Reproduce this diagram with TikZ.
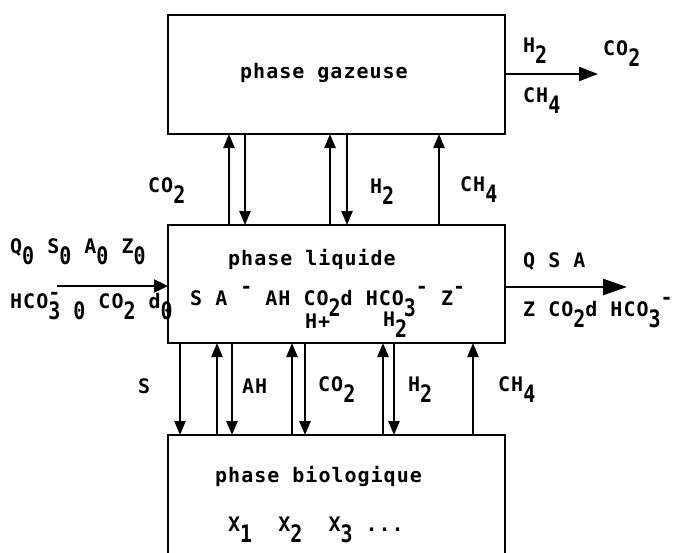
\documentclass[tikz,border=0pt]{standalone}
\usepackage{fontspec}
\usepackage{graphicx}
\setmainfont[LetterSpace=5]{DejaVu Sans Mono Bold}
\usetikzlibrary{arrows.meta,positioning}
\newcommand{\lowr}[1]{\raisebox{-0.55em}{\scalebox{1}[1.2]{#1}}}
\newcommand{\highr}[1]{\raisebox{0.6em}{#1}}
\tikzset{
    phase/.style = {
        draw,
        line width=2.6pt,
        minimum width=337pt,
        outer sep=0pt,
        },
    lbl/.style = {
        anchor=base west,
        inner sep=0pt,
        },
    flux/.style = {
        line width=2.4pt,
        },
    arrup/.style = {
        flux,
        {Triangle[length=14pt,width=11pt]}-,
        },
    arrdown/.style = {
        flux,
        -{Triangle[length=14pt,width=11pt]},
        },
}

\begin{document}
\begin{tikzpicture}[
            x=1pt, y=-1pt,
            node distance=91pt,
            every node/.append style={font=\fontsize{20}{24}\selectfont}
            ]
            \useasboundingbox (0,0) rectangle (674,552);

            \node [phase, minimum height=119pt] (gaz) at (336.5,74.5) {};
            \node [phase, minimum height=118pt, below=of gaz] (liq) {};
            \node [phase, minimum height=140pt, below=92pt of liq] (bio) {};

            % phase gazeuse
            \node [lbl] (tgaz) at (240,78) {phase gazeuse};
            \coordinate (sortiegaz) at (598,74);
            \draw[flux, -{Triangle[length=19pt,width=14pt]}] (gaz.east |- sortiegaz) -- (sortiegaz);
            \node [lbl] (gh2) at (523,52) {H\lowr{2}};
            \node [lbl] (gco2) at (603,55) {CO\lowr{2}};
            \node [lbl] (gch4) at (523,102) {CH\lowr{4}};

            % echanges gaz / liquide
            \foreach \x/\s in {229/arrup,245/arrdown,330/arrup,347/arrdown,439/arrup}
                \draw[\s] (gaz.south -| \x,0) -- (liq.north -| \x,0);
            \node [lbl] (glco2) at (148,192) {CO\lowr{2}};
            \node [lbl] (glh2) at (370,193) {H\lowr{2}};
            \node [lbl] (glch4) at (460,191) {CH\lowr{4}};

            % phase liquide
            \node [lbl] (tliq) at (228,265) {phase liquide};
            \node [lbl] (lvar) at (190,305) {S A \highr{-} AH CO\lowr{2}d HCO\lowr{3}\highr{-} Z\highr{-}};
            \node [lbl] (lhp) at (305,328) {H+};
            \node [lbl] (lh2) at (383,326) {H\lowr{2}};
            \coordinate (entree) at (57,286);
            \draw[flux, -{Triangle[length=14pt,width=13pt]}] (entree) -- (entree -| liq.west);
            \node [lbl] (ein) at (10,253) {Q\lowr{0} S\lowr{0} A\lowr{0} Z\lowr{0}};
            \node [lbl] (ein2) at (10,308) {HCO\rlap{\lowr{3}}\raisebox{0.45em}{-} \lowr{0} CO\lowr{2} d\lowr{0}};
            \coordinate (sortie) at (627,287);
            \draw[flux, -{Triangle[length=24pt,width=16pt]}] (liq.east |- sortie) -- (sortie);
            \node [lbl] (sout) at (523,267) {Q S A};
            \node [lbl] (sout2) at (523,316) {Z CO\lowr{2}d HCO\lowr{3}\highr{-}};

            % echanges liquide / biologique
            \foreach \x/\s in {180/arrdown,217/arrup,232/arrdown,292/arrup,305/arrdown,383/arrup,394/arrdown,473/arrup}
                \draw[\s] (liq.south -| \x,0) -- (bio.north -| \x,0);
            \node [lbl] (lbs) at (138,393) {S};
            \node [lbl] (lbah) at (242,393) {AH};
            \node [lbl] (lbco2) at (318,391) {CO\lowr{2}};
            \node [lbl] (lbh2) at (408,391) {H\lowr{2}};
            \node [lbl] (lbch4) at (498,391) {CH\lowr{4}};

            % phase biologique
            \node [lbl] (tbio) at (215,482) {phase biologique};
            \node [lbl] (xbio) at (228,531) {X\lowr{1}\ \ X\lowr{2}\ \ X\lowr{3} ...};
\end{tikzpicture}
\end{document}
